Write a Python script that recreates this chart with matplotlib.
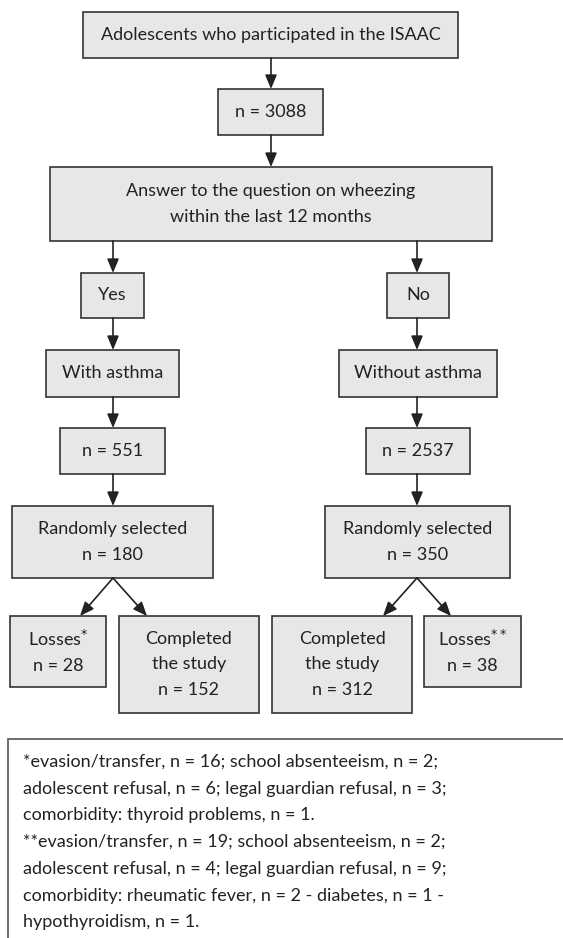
import matplotlib.pyplot as plt
from matplotlib.patches import Rectangle

plt.rcParams['font.family'] = ['Lato', 'DejaVu Sans']

# Flowchart texts and counts
total_label = 'Adolescents who participated in the ISAAC'
n_total = 3088
question_label = 'Answer to the question on wheezing\nwithin the last 12 months'
answers = ['Yes', 'No']
groups = ['With asthma', 'Without asthma']
n_groups = [551, 2537]
n_selected = [180, 350]
n_losses = [28, 38]
n_completed = [152, 312]
loss_marks = ['*', '**']
footnotes = [
    '*evasion/transfer, n = 16; school absenteeism, n = 2;',
    'adolescent refusal, n = 6; legal guardian refusal, n = 3;',
    'comorbidity: thyroid problems, n = 1.',
    '**evasion/transfer, n = 19; school absenteeism, n = 2;',
    'adolescent refusal, n = 4; legal guardian refusal, n = 9;',
    'comorbidity: rheumatic fever, n = 2 - diabetes, n = 1 -',
    'hypothyroidism, n = 1.',
]

FILL = '#e6e7e8'
EDGE = '#333333'
FS = 13

fig = plt.figure(figsize=(5.63, 9.38), dpi=100)
ax = fig.add_axes([0, 0, 1, 1])
ax.set_xlim(0, 563)
ax.set_ylim(938, 0)
ax.axis('off')


def box(x0, y0, x1, y1, text, fs=FS):
    ax.add_patch(Rectangle((x0, y0), x1 - x0, y1 - y0, facecolor=FILL,
                           edgecolor=EDGE, linewidth=1.2))
    ax.text((x0 + x1) / 2, (y0 + y1) / 2, text, ha='center', va='center',
            fontsize=fs, color='#222222', linespacing=1.72)


def arrow(x0, y0, x1, y1):
    ax.annotate('', xy=(x1, y1), xytext=(x0, y0),
                arrowprops=dict(arrowstyle='-|>,head_length=0.6,head_width=0.25',
                                color='#222222', lw=1.2,
                                mutation_scale=14, shrinkA=0, shrinkB=0))


cx = 271
box(83, 12, 458, 58, total_label)
arrow(cx, 58, cx, 89)
box(218, 89, 323, 135, f'n = {n_total}')
arrow(cx, 135, cx, 167)
box(50, 167, 492, 241, question_label)

cols = [113, 417]
ans_x = [(81, 144), (387, 449)]
grp_x = [(46, 179), (339, 497)]
n_x = [(60, 165), (366, 470)]
sel_x = [(12, 213), (325, 510)]
for i in range(2):
    c = cols[i]
    arrow(c, 241, c, 273)
    box(ans_x[i][0], 273, ans_x[i][1], 318, answers[i])
    arrow(c, 318, c, 350)
    box(grp_x[i][0], 350, grp_x[i][1], 397, groups[i])
    arrow(c, 397, c, 428)
    box(n_x[i][0], 428, n_x[i][1], 474, f'n = {n_groups[i]}')
    arrow(c, 474, c, 506)
    box(sel_x[i][0], 506, sel_x[i][1], 578,
        f'Randomly selected\nn = {n_selected[i]}')

# bottom row
loss_x = [(10, 106), (424, 521)]
comp_x = [(119, 259), (272, 412)]
loss_tip = [80, 451]
comp_tip = [147, 383]
for i in range(2):
    c = cols[i]
    arrow(c, 578, loss_tip[i], 616)
    arrow(c, 578, comp_tip[i], 616)
    box(loss_x[i][0], 616, loss_x[i][1], 687,
        f'Losses$^{{{loss_marks[i]}}}$\nn = {n_losses[i]}')
    box(comp_x[i][0], 616, comp_x[i][1], 713,
        f'Completed\nthe study\nn = {n_completed[i]}')

# footnote box (cut at the page edge)
ax.plot([8, 8, 563], [940, 739, 739], color='#555555', lw=1.2,
        solid_joinstyle='miter')
for k, line in enumerate(footnotes):
    ax.text(23, 762 + k * 26.7, line, ha='left', va='center', fontsize=FS,
            color='#222222')

fig.savefig('out.png', dpi=100)
